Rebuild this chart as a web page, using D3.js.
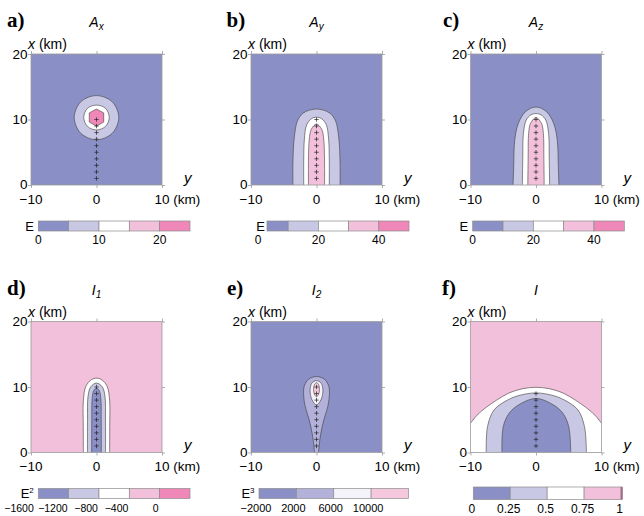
<!DOCTYPE html>
<html><head><meta charset="utf-8">
<script src="https://cdn.jsdelivr.net/npm/d3@7"></script>
<style>body{margin:0;background:#fff}svg{display:block}</style>
</head><body>
<svg id="chart" width="644" height="516"></svg>
<script>
// ---------------- DATA ----------------
const panelLetters = ["a)", "b)", "c)", "d)", "e)", "f)"];
const titleMain = ["A", "A", "A", "I", "I", "I"];
const titleSub = ["x", "y", "z", "1", "2", ""];
const yKmTicks = [-10, 0, 10];      // horizontal axis (y, km)
const xKmTicks = [0, 10, 20];       // vertical axis (x, km)
const unitMain = ["E", "E", "E", "E", "E", ""];
const unitSup = ["", "", "", "2", "3", ""];

// station crosses along y = 0 (x in km)
const stationsA = [1, 2, 3, 4, 5, 6, 7, 8, 9, 10];
const stationsF = [1, 2, 3, 4, 5, 6, 7, 8, 9];

// colour-bar level boundaries and labels
const cbBoundsA = [0, 5, 10, 15, 20, 25];
const cbBoundsB = [0, 10, 20, 30, 40, 50];
const cbBoundsC = [0, 10, 20, 30, 40, 50];
const cbBoundsD = [-1600, -1200, -800, -400, 0, 400];
const cbBoundsE = [-2000, 2000, 6000, 10000, 14000];
const cbBoundsF = [0, 0.25, 0.5, 0.75, 1, 1.01];
const cbLabelsA = [0, 10, 20];
const cbLabelsB = [0, 20, 40];
const cbLabelsC = [0, 20, 40];
const cbLabelsD = [-1600, -1200, -800, -400, 0];
const cbLabelsE = [-2000, 2000, 6000, 10000];
const cbLabelsF = [0, 0.25, 0.5, 0.75, 1];

// contour boundaries, points as [y km, x km]
// a) A_x
const aC1 = [[0,13.65],[2.4,12.7],[3.4,10.3],[2.4,7.9],[0,6.9],[-2.4,7.9],[-3.4,10.3],[-2.4,12.7]];
const aC2 = [[0,12.2],[1.38,11.7],[1.95,10.3],[1.38,8.95],[0,8.4],[-1.38,8.95],[-1.95,10.3],[-1.38,11.7]];
const aC3 = [[0,11.6],[1.1,11.0],[1.1,9.6],[0,9.0],[-1.1,9.6],[-1.1,11.0]];
// b) A_y
const bC1 = [[-3.6,0],[-3.6,3],[-3.5,6],[-3.3,8],[-2.9,9.8],[-2.0,11.0],[0,11.6],[2.0,11.0],[2.9,9.8],[3.3,8],[3.5,6],[3.6,3],[3.6,0]];
const bC2 = [[-1.95,0],[-1.95,4],[-1.85,7],[-1.5,9.2],[-0.8,10.1],[0,10.35],[0.8,10.1],[1.5,9.2],[1.85,7],[1.95,4],[1.95,0]];
const bC3 = [[-1.23,0],[-1.22,4],[-1.1,7],[-0.8,8.5],[0,9.3],[0.8,8.5],[1.1,7],[1.22,4],[1.23,0]];
// c) A_z
const cC1 = [[-3.5,0],[-3.4,3],[-3.25,6.8],[-2.7,9.4],[-1.6,11.2],[0,11.9],[1.6,11.2],[2.7,9.4],[3.25,6.8],[3.4,3],[3.5,0]];
const cC2 = [[-2.08,0],[-2.02,4],[-1.92,7.9],[-1.5,9.9],[-0.8,10.7],[0,10.9],[0.8,10.7],[1.5,9.9],[1.92,7.9],[2.02,4],[2.08,0]];
const cC3 = [[-1.25,0],[-1.2,4],[-1.12,7.9],[-0.84,9.4],[0,10.3],[0.84,9.4],[1.12,7.9],[1.2,4],[1.25,0]];
// d) I_1
const dC1 = [[-2.0,0],[-2.02,4],[-2.0,8.0],[-1.62,10.1],[-0.8,11.1],[0,11.35],[0.8,11.1],[1.62,10.1],[2.0,8.0],[2.02,4],[2.0,0]];
const dC2 = [[-1.38,0],[-1.37,5],[-1.3,8.5],[-0.9,10.0],[0,10.6],[0.9,10.0],[1.3,8.5],[1.37,5],[1.38,0]];
const dC3 = [[-0.74,0],[-0.72,5],[-0.66,8.3],[-0.4,9.5],[0,9.8],[0.4,9.5],[0.66,8.3],[0.72,5],[0.74,0]];
// e) I_2
const eC1 = [[-0.3,0],[-0.45,1.5],[-0.66,2.9],[-1.11,4.95],[-1.72,7.0],[-1.97,8.8],[-1.85,10.2],[-1.2,11.2],[0,11.6],[1.2,11.2],[1.85,10.2],[1.97,8.8],[1.72,7.0],[1.11,4.95],[0.66,2.9],[0.45,1.5],[0.3,0]];
const eC2 = [[0,10.97],[0.7,10.6],[0.98,9.4],[0.7,8.1],[0,7.24],[-0.7,8.1],[-0.98,9.4],[-0.7,10.6]];
const eC3 = [[0,10.66],[0.33,10.35],[0.45,9.6],[0.32,8.9],[0,8.52],[-0.32,8.9],[-0.45,9.6],[-0.33,10.35]];
// f) I
const fC1 = [[-10,4.46],[-9,5.7],[-7.6,6.9],[-6,8.0],[-4.1,9.1],[-2,9.75],[0,9.95],[2,9.75],[4.1,9.1],[6,8.0],[7.6,6.9],[9,5.7],[10,4.46]];
const fC1Edge = [[10,0],[-10,0]];
const fC2 = [[-7.6,0],[-7.4,3.95],[-6.4,6.5],[-4.36,8.0],[-2.6,8.7],[0,9.1],[2.6,8.7],[4.36,8.0],[6.4,6.5],[7.4,3.95],[7.7,0]];
const fC3 = [[-5.2,0],[-5.0,3.95],[-4.1,6.0],[-2.6,7.3],[0,8.25],[2.6,7.3],[4.1,6.0],[5.0,3.95],[5.3,0]];

// ---------------- STYLE / LAYOUT ----------------
const C = {blue:"#8a90c6", lav:"#c9c8e4", white:"#ffffff", lpink:"#f2c0da", pink:"#ef88b8",
           lav2:"#b3b1da", white2:"#f4f3f9", lpink2:"#f5c8de", dpink:"#d9417f"};
const font = "'Liberation Sans', Arial, Helvetica, sans-serif";
const W = 131, H = 131;
const colLeft = [31, 251, 470.5];
const rowTop = [54, 321.5];

const panels = [
  {bg:C.blue, cont:[{pts:aC1,kind:"closed",fill:C.lav},{pts:aC2,kind:"closed",fill:C.white},{pts:aC3,kind:"poly",fill:C.pink}],
   st:stationsA, cb:{bounds:cbBoundsA, cols:[C.blue,C.lav,C.white,C.lpink,C.pink], labels:cbLabelsA, x0:38.3, x1:190, anchor:"middle", dx:0, fs:12}, lx:7},
  {bg:C.blue, cont:[{pts:bC1,kind:"open",fill:C.lav},{pts:bC2,kind:"open",fill:C.white},{pts:bC3,kind:"open",fill:C.lpink}],
   st:stationsA, cb:{bounds:cbBoundsB, cols:[C.blue,C.lav,C.white,C.lpink,C.pink], labels:cbLabelsB, x0:258, x1:409, clip:267, anchor:"middle", dx:0, ux:265, fs:12}, lx:226.5},
  {bg:C.blue, cont:[{pts:cC1,kind:"open",fill:C.lav},{pts:cC2,kind:"open",fill:C.white},{pts:cC3,kind:"open",fill:C.lpink}],
   st:stationsA, cb:{bounds:cbBoundsC, cols:[C.blue,C.lav,C.white,C.lpink,C.pink], labels:cbLabelsC, x0:472.7, x1:624.3, anchor:"middle", dx:0, fs:12}, lx:443},
  {bg:C.lpink, cont:[{pts:dC1,kind:"open",fill:C.white},{pts:dC2,kind:"open",fill:C.lav},{pts:dC3,kind:"open",fill:C.blue}],
   st:stationsA, cb:{bounds:cbBoundsD, cols:[C.blue,C.lav,C.white,C.lpink,C.pink], labels:cbLabelsD, x0:38.3, x1:190, anchor:"end", dx:[-4.5,-1,-1,-1,-1], fs:10.5}, lx:7},
  {bg:C.blue, cont:[{pts:eC1,kind:"open",fill:C.lav2},{pts:eC2,kind:"closed",fill:C.white2},{pts:eC3,kind:"closed",fill:C.lpink2}],
   st:stationsA, cb:{bounds:cbBoundsE, cols:[C.blue,C.lav2,C.white2,C.lpink2], labels:cbLabelsE, x0:259, x1:408.5, anchor:"middle", dx:-3, fs:11}, lx:227},
  {bg:C.lpink, cont:[{pts:fC1,kind:"open",edge:fC1Edge,fill:C.white},{pts:fC2,kind:"open",fill:C.lav},{pts:fC3,kind:"open",fill:C.blue}],
   st:stationsF, cb:{bounds:cbBoundsF, cols:[C.blue,C.lav,C.white,C.lpink,C.dpink], labels:cbLabelsF, x0:473.3, x1:622.5, anchor:"middle", dx:-1.5, h:12.5, dy:-1.5, fs:12}, lx:442}
];

const svg = d3.select("#chart");
const fmt = v => d3.format("")(v).replace("-", "\u2212");

panels.forEach((p, i) => {
  const left = colLeft[i % 3], top = rowTop[Math.floor(i / 3)];
  const sx = d3.scaleLinear().domain([-10, 10]).range([left, left + W]);
  const sy = d3.scaleLinear().domain([0, 20]).range([top + H, top]);
  const g = svg.append("g");
  const clipId = "clip" + i;
  svg.append("clipPath").attr("id", clipId).append("rect")
    .attr("x", left).attr("y", top).attr("width", W).attr("height", H);
  const plot = g.append("g").attr("clip-path", `url(#${clipId})`);
  plot.append("rect").attr("x", left).attr("y", top).attr("width", W).attr("height", H).attr("fill", p.bg);

  p.cont.forEach(c => {
    const curve = c.kind === "closed" ? d3.curveCatmullRomClosed.alpha(0.5)
                : c.kind === "poly" ? d3.curveLinearClosed : d3.curveCatmullRom.alpha(0.5);
    const ln = d3.line().x(d => sx(d[0])).y(d => sy(d[1])).curve(curve);
    let dFill = ln(c.pts);
    if (c.kind === "open") {
      (c.edge || []).forEach(q => { dFill += "L" + sx(q[0]) + "," + sy(q[1]); });
      dFill += "Z";
    }
    plot.append("path").attr("d", dFill).attr("fill", c.fill).attr("stroke", "none");
    plot.append("path").attr("d", ln(c.pts)).attr("fill", "none").attr("stroke", "#3c3c3c").attr("stroke-width", 0.6);
  });

  // station crosses
  const cs = 2.2;
  plot.selectAll(".st").data(p.st).join("path")
    .attr("d", d => `M${sx(0) - cs},${sy(d)}H${sx(0) + cs}M${sx(0)},${sy(d) - cs}V${sy(d) + cs}`)
    .attr("stroke", "#222").attr("stroke-width", 0.7).attr("fill", "none");

  // frame + ticks
  g.append("rect").attr("x", left).attr("y", top).attr("width", W).attr("height", H)
    .attr("fill", "none").attr("stroke", "#9a9a9a").attr("stroke-width", 0.8);
  const tickStyle = s => s.call(a => a.select(".domain").remove())
    .call(a => a.selectAll(".tick line").attr("stroke", "#9a9a9a").attr("stroke-width", 0.8))
    .call(a => a.selectAll(".tick text").remove());
  g.append("g").attr("transform", `translate(0,${top + H})`).call(d3.axisBottom(sx).tickValues(yKmTicks).tickSize(3)).call(tickStyle);
  g.append("g").attr("transform", `translate(0,${top})`).call(d3.axisTop(sx).tickValues(yKmTicks).tickSize(3)).call(tickStyle);
  g.append("g").attr("transform", `translate(${left},0)`).call(d3.axisLeft(sy).tickValues(xKmTicks).tickSize(3)).call(tickStyle);
  g.append("g").attr("transform", `translate(${left + W},0)`).call(d3.axisRight(sy).tickValues(xKmTicks).tickSize(3)).call(tickStyle);

  // tick labels
  xKmTicks.forEach(v => {
    g.append("text").attr("x", left - 3.5).attr("y", sy(v) + (v === 0 ? -0.5 : 0)).attr("dy", "0.35em")
      .attr("text-anchor", "end").attr("font-family", font).attr("font-size", 13.5).text(fmt(v));
  });
  yKmTicks.forEach((v, k) => {
    const t = g.append("text").attr("y", top + H + 18.5).attr("font-family", font).attr("font-size", 13.5);
    if (k === yKmTicks.length - 1) {
      t.attr("x", sx(v) - 7.5).attr("text-anchor", "start").text(fmt(v) + " (km)");
    } else {
      t.attr("x", sx(v)).attr("text-anchor", "middle").text(fmt(v));
    }
  });
  g.append("text").attr("x", left + W + 22).attr("y", top + H - 2.5).attr("font-family", font)
    .attr("font-size", 15).attr("font-style", "italic").text("y");
  g.append("text").attr("x", left - 3).attr("y", top - 5).attr("font-family", font)
    .attr("font-size", 14).html("<tspan font-style='italic'>x</tspan> (km)");

  // panel letter + title
  g.append("text").attr("x", p.lx).attr("y", top - 27).attr("font-family", "'Liberation Serif', 'Times New Roman', serif")
    .attr("font-weight", "bold").attr("font-size", 21).text(panelLetters[i]);
  const tt = g.append("text").attr("x", left + W / 2).attr("y", top - 27).attr("text-anchor", "middle")
    .attr("font-family", font).attr("font-size", 14).attr("font-style", "italic");
  tt.append("tspan").text(titleMain[i]);
  if (titleSub[i]) tt.append("tspan").attr("font-size", 10).attr("dy", 3).text(titleSub[i]);

  // colour bar
  const cb = p.cb;
  const cy = top + 167 + (cb.dy || 0), ch = cb.h || 10;
  const cx = d3.scaleLinear().domain([cb.bounds[0], cb.bounds[cb.bounds.length - 1]]).range([cb.x0, cb.x1]);
  const boxes = cb.cols.map((col, k) => ({a: cb.bounds[k], b: cb.bounds[k + 1], col}));
  g.selectAll(".cbbox" + i).data(boxes).join("rect")
    .attr("x", d => Math.max(cx(d.a), cb.clip || 0))
    .attr("width", d => cx(d.b) - Math.max(cx(d.a), cb.clip || 0))
    .attr("y", cy).attr("height", ch).attr("fill", d => d.col)
    .attr("stroke", "#8c8c8c").attr("stroke-width", 0.7);
  g.selectAll(".cblab" + i).data(cb.labels).join("text")
    .attr("x", (d, k) => cx(d) + (Array.isArray(cb.dx) ? cb.dx[k] : cb.dx)).attr("y", cy + ch + 13).attr("text-anchor", cb.anchor)
    .attr("font-family", font).attr("font-size", cb.fs)
    .text(d => fmt(d));
  if (unitMain[i]) {
    const ut = g.append("text").attr("x", cb.ux || (cb.x0 - 4.5)).attr("y", cy + ch - 0.3).attr("text-anchor", "end")
      .attr("font-family", font).attr("font-size", 13).text(unitMain[i]);
    if (unitSup[i]) ut.append("tspan").attr("font-size", 8).attr("dy", -5).text(unitSup[i]);
  }
});
</script>
</body></html>
